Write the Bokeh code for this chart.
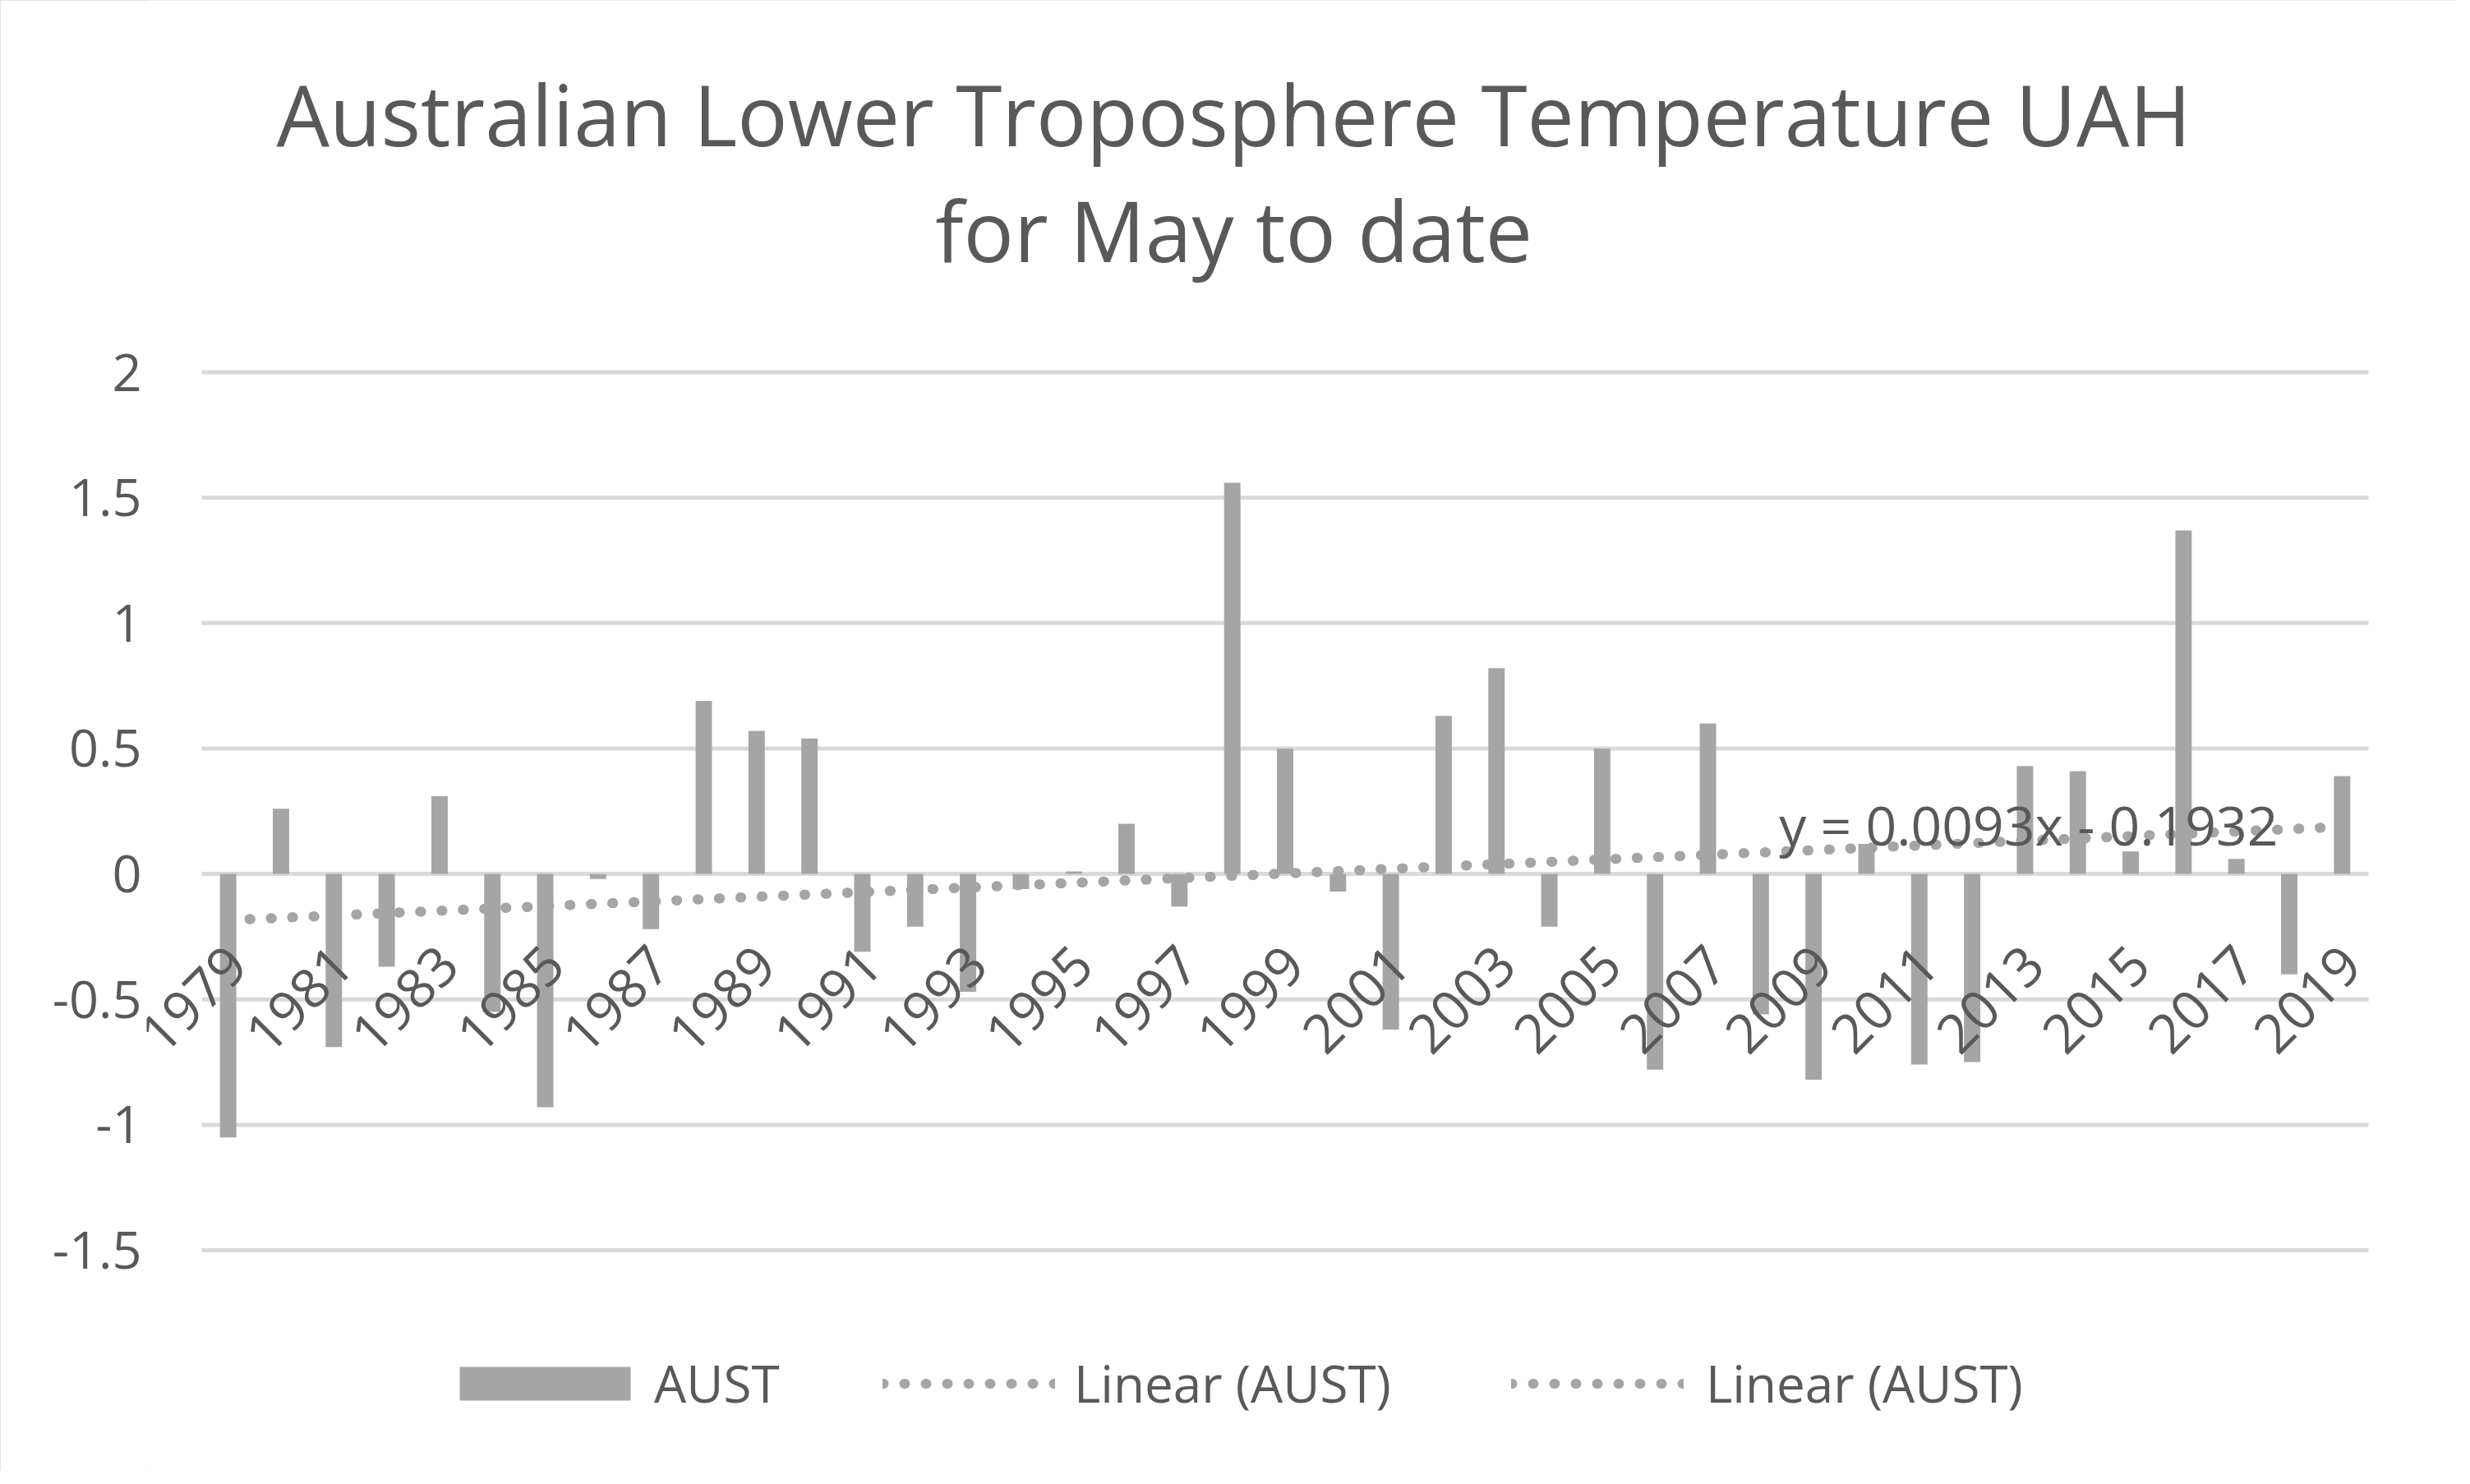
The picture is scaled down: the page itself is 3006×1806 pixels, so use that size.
import math
from bokeh.plotting import figure
from bokeh.models import Range1d, FixedTicker, Label, Legend, LegendItem, ColumnDataSource
from bokeh.core.properties import value
from bokeh.embed import file_html
from bokeh.resources import INLINE

# ---- data ----
years = list(range(1979, 2020))
aust = [-1.05, 0.26, -0.69, -0.37, 0.31, -0.55, -0.93, -0.02, -0.22, 0.69,
        0.57, 0.54, -0.31, -0.21, -0.47, -0.06, 0.01, 0.20, -0.13, 1.56,
        0.50, -0.07, -0.62, 0.63, 0.82, -0.21, 0.50, -0.78, 0.60, -0.56,
        -0.82, 0.12, -0.76, -0.75, 0.43, 0.41, 0.09, 1.37, 0.06, -0.40, 0.39]
trend_slope = 0.0093
trend_intercept = -0.1932
year_tick_labels = [str(y) for y in range(1979, 2020, 2)]
y_ticks = [-1.5, -1.0, -0.5, 0.0, 0.5, 1.0, 1.5, 2.0]
y_tick_labels = ["-1.5", "-1", "-0.5", "0", "0.5", "1", "1.5", "2"]
title_line1 = "Australian Lower Troposphere Temperature UAH"
title_line2 = "for May to date"
equation_text = "y = 0.0093x - 0.1932"
series_label = "AUST"
trend_label = "Linear (AUST)"

FONT = "Open Sans"
TXT = "#595959"
BAR = "#a5a5a5"
GRID = "#d9d9d9"

p = figure(width=2990, height=1790, output_backend="svg", toolbar_location=None,
           x_range=Range1d(1977.4583, 2021.1792), y_range=Range1d(-2.3812, 3.4827),
           min_border_left=178, min_border_right=0, min_border_top=0,
           min_border_bottom=0)
p.styles = {"outline": "6px solid #d9d9d9", "outline-offset": "-6px"}
p.outline_line_color = None
p.background_fill_color = "white"
p.border_fill_color = "white"
p.xaxis.visible = False
p.xgrid.grid_line_color = None
p.ygrid.grid_line_color = None
p.yaxis.ticker = FixedTicker(ticks=y_ticks)
p.yaxis.major_label_overrides = {t: l for t, l in zip(y_ticks, y_tick_labels)}
p.yaxis.axis_line_color = None
p.yaxis.major_tick_line_color = None
p.yaxis.minor_tick_line_color = None
p.yaxis.major_tick_out = 0
p.yaxis.major_tick_in = 0
p.yaxis.major_label_standoff = 6
p.yaxis.major_label_text_font = FONT
p.yaxis.major_label_text_font_size = "63px"
p.yaxis.major_label_text_color = TXT

# horizontal gridlines spanning the category area
n = len(y_ticks)
p.segment(x0=[years[0] - 0.5] * n, x1=[years[-1] + 0.5] * n, y0=y_ticks, y1=y_ticks,
          line_color=GRID, line_width=5)

# bars
src = ColumnDataSource(dict(x=years, top=aust))
bars = p.vbar(x="x", top="top", bottom=0, width=0.31, source=src,
              fill_color=BAR, line_color=None)

# trend lines (two identical)
ty = [trend_slope * (i + 1) + trend_intercept for i in range(len(years))]
trend1 = p.line(years, ty, line_color=BAR, line_width=12, line_dash="1 25", line_cap="round")
trend2 = p.line(years, ty, line_color=BAR, line_width=12, line_dash="1 25", line_cap="round")

# rotated year labels at the zero line
lab_x = [int(s) for s in year_tick_labels]
p.text(x=lab_x, y=[0] * len(lab_x), text=year_tick_labels, angle=math.pi / 4,
       text_align="right", text_baseline="alphabetic", x_offset=11, y_offset=99,
       text_font=value(FONT), text_font_size=value("66px"), text_color=TXT)

# equation
p.add_layout(Label(x=2008.35, y=0.197, text=equation_text, text_font=FONT,
                   text_font_size="66px", text_color=TXT, text_baseline="alphabetic",
                   text_align="left"))

# title
p.add_layout(Label(x=1998.03, y=3.032, text=title_line1, text_font=FONT,
                   text_font_size="102px", text_color=TXT, text_align="center",
                   text_baseline="alphabetic"))
p.add_layout(Label(x=1998.03, y=2.569, text=title_line2, text_font=FONT,
                   text_font_size="102px", text_color=TXT, text_align="center",
                   text_baseline="alphabetic"))

# legend: one legend per entry so each key can have its own size
def make_legend(label, renderer, loc, gw, gh, standoff):
    return Legend(items=[LegendItem(label=label, renderers=[renderer])],
                  orientation="horizontal", location=loc,
                  glyph_width=gw, glyph_height=gh, label_standoff=standoff,
                  padding=0, margin=0, border_line_color=None, background_fill_alpha=0,
                  label_text_font=FONT, label_text_font_size="62px", label_text_color=TXT)

p.add_layout(make_legend(series_label, bars, (355, 65), 260, 51, 3), "center")
p.add_layout(make_legend(trend_label, trend1, (896, 65), 210, 51, 23), "center")
p.add_layout(make_legend(trend_label, trend2, (1661, 65), 210, 51, 27), "center")

open("out.html", "w").write(file_html(p, INLINE))
